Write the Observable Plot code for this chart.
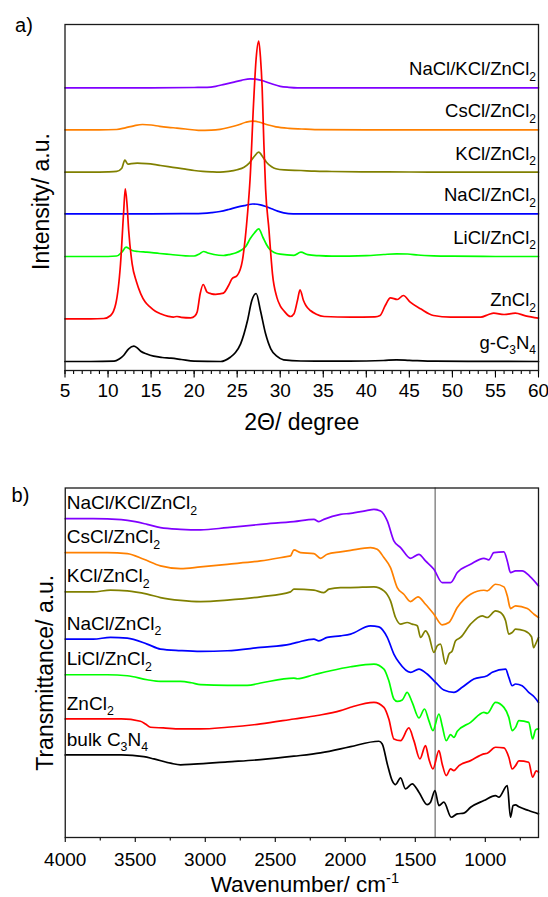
<!DOCTYPE html>
<html><head><meta charset="utf-8">
<script src="https://cdn.jsdelivr.net/npm/d3@7"></script>
<script src="https://cdn.jsdelivr.net/npm/@observablehq/plot@0.6"></script>
<style>
html,body{margin:0;padding:0;background:#fff;}
#fig{position:relative;width:548px;height:897px;overflow:hidden;background:#fff;}
#fig svg{position:absolute;left:0;}
</style></head><body><div id="fig"></div>
<script>
// ---------- Panel a) XRD data: [2theta, intensity above own baseline (a.u.)] ----------
const xrdNames = ["g-C3N4", "ZnCl2", "LiCl/ZnCl2", "NaCl/ZnCl2", "KCl/ZnCl2", "CsCl/ZnCl2", "NaCl/KCl/ZnCl2"];
const xrdOffsets = [9, 51.7, 114, 156.7, 198.3, 240.7, 282.7];
const xrdTicks = [5, 10, 15, 20, 25, 30, 35, 40, 45, 50, 55, 60];

const xrdGC3N4 = [[5,0],[8,0],[10.7,0.3],[11.3,2.5],[11.8,6],[12.4,12.7],[13.0,15.3],[13.4,13.5],[13.8,10.3],[14.5,7.5],[15.3,5.3],[16.3,4],[17.3,3.3],[18.5,2],[20,0.3],[23.1,0],[24.2,4.3],[24.8,9],[25.4,17.7],[26.2,41],[26.7,61],[27.2,68],[27.7,51],[28.3,27.7],[28.9,12.7],[29.6,5.3],[30.4,1.7],[32.4,0.5],[38,0.3],[42,1],[43.5,1.7],[45,1.2],[48,0.3],[60,0]];
const xrdZnCl2 = [[5,0],[8,0],[9.5,0.3],[10.3,3.3],[10.9,15],[11.45,55],[11.8,105],[12.0,130],[12.2,115],[12.4,88],[12.8,55],[13.3,37],[13.8,25],[14.3,17],[14.9,11.7],[15.5,7.5],[16.1,5],[17,2.5],[17.6,1.7],[18,2.3],[18.5,1.5],[19.6,1],[20.1,3],[20.35,6.7],[20.7,25],[21.05,34.3],[21.5,26.7],[22,25],[22.5,24.5],[23,25],[23.4,25.7],[24.0,33.3],[24.4,40],[25.0,43.3],[25.6,58],[26.2,105],[26.5,140],[26.9,215],[27.2,260],[27.5,277.6],[27.7,262],[27.9,231],[28.1,175],[28.3,130],[28.7,88],[28.9,65],[29.1,45],[29.6,21.7],[30.0,13],[30.4,8.3],[31.2,2.3],[31.6,5],[32.0,18.3],[32.3,29],[32.7,18.3],[33.0,13],[33.5,8.3],[34.2,4.5],[35.1,2.3],[38.2,1.7],[41,2],[41.6,3.3],[42.2,13.3],[42.8,21],[43.6,19.3],[44.3,23.3],[45.1,16.7],[46.3,10],[47.8,3.3],[49.8,1.7],[53.3,1.7],[54.2,4.3],[54.8,5.7],[56,4.3],[57.3,5.7],[58.5,3],[60,0.7]];
const xrdLiCl = [[5,0],[9,0],[11,0.5],[11.6,4.3],[12.1,9.3],[12.8,6],[13.5,5],[14.5,4.3],[16,3],[17.3,2],[19,0.7],[20,0.5],[20.6,2.5],[21.1,5],[21.6,3.5],[22.3,2],[23.4,1],[24.2,2.2],[24.8,3.5],[25.5,6.5],[26,10],[26.5,17.7],[27,23.5],[27.5,27.7],[28,19],[28.4,12],[28.8,7],[29.3,4],[30,2.3],[31.6,1.2],[32.4,4.3],[33.2,1.8],[34.5,0.8],[36,0.3],[40,0.8],[42,2],[43.5,2.7],[44.8,2.5],[46,1.5],[47.8,0.7],[50,0.3],[55,0],[60,0]];
const xrdNaCl = [[5,0],[10,0],[15,0],[20,0.2],[21,0.5],[22,1.2],[23,2.3],[24,4.3],[25,6.7],[26,8.5],[26.8,9.8],[27.7,9],[28.4,7],[29,5],[29.7,2.7],[30.4,1],[31.5,0],[40,0],[50,0],[60,0]];
const xrdKCl = [[5,0],[8,0],[10,0.3],[11,0.8],[11.6,4],[11.95,12],[12.3,8],[12.7,8.5],[13.4,9],[14.5,8.5],[15.3,7.8],[16.1,6.7],[17,5.5],[18,4.3],[19,3],[20,1.7],[21,0.8],[22,0.3],[23,0],[24,0.8],[25,2.5],[25.8,5],[26.4,9],[27,16],[27.5,20],[28,15],[28.4,10],[29,5.5],[29.5,3.5],[30.5,2.3],[32.4,1.7],[34,1],[36,0.7],[40,0.3],[45,0.2],[50,0],[60,0]];
const xrdCsCl = [[5,0],[9,0],[11,0.3],[12,2],[13,4],[14,5.3],[15,4.8],[16,3.5],[17,2.5],[18,1.7],[19,0.8],[20.5,-0.5],[22,-0.3],[23,0.5],[24,2.3],[25,4.5],[26,7.5],[26.8,8.7],[27.5,7.8],[28.5,5],[29.5,3],[31,1.5],[32.5,0.8],[34,0.2],[40,0],[50,0],[60,0]];
const xrdNaKCl = [[5,0],[10,0],[15,0],[20,0.3],[21.5,0.5],[22.5,1.5],[23.5,3.5],[24.5,5.5],[25.5,7.5],[26.5,9],[27.3,8.5],[28,7],[29,4],[30,1.5],[31,0.5],[32,0],[40,0],[50,0],[60,0]];
const xrdSeries = [xrdGC3N4, xrdZnCl2, xrdLiCl, xrdNaCl, xrdKCl, xrdCsCl, xrdNaKCl];

// ---------- Panel b) FTIR data: [wavenumber, transmittance relative to value at 4000 (a.u.)] ----------
const irNames = ["bulk C3N4", "ZnCl2", "LiCl/ZnCl2", "NaCl/ZnCl2", "KCl/ZnCl2", "CsCl/ZnCl2", "NaCl/KCl/ZnCl2"];
const irOffsets = [82.7, 118.7, 163, 198.7, 246, 285.3, 319.3];
const irTicks = [4000, 3500, 3000, 2500, 2000, 1500, 1000];
const irMinorTicks = [3750, 3250, 2750, 2250, 1750, 1250, 750];
const irMarker = [1358];

const irBulk = [[4000,0],[3600,0],[3439,-1.7],[3367,-4],[3248,-8.3],[3177,-10],[3082,-9.3],[2843,-7],[2605,-4.7],[2367,-1.3],[2177,2],[2034,6],[1962,8.3],[1760,13.7],[1736,11],[1700,-9],[1665,-25.7],[1641,-29.7],[1605,-23],[1570,-34],[1522,-29],[1474,-37.3],[1415,-49.7],[1391,-47.3],[1360,-35.7],[1331,-50.7],[1296,-47.3],[1243,-62.4],[1200,-59],[1153,-58.3],[1105,-52.4],[1010,-45.7],[927,-40.7],[903,-42.3],[843,-30.7],[820,-62.4],[801,-50.7],[784,-50],[760,-52],[690,-55.7],[620,-59]];
const irZnCl2 = [[4000,0],[3600,0],[3463,-2.3],[3427,-5],[3391,-8.3],[3300,-9],[3177,-10],[3034,-10],[2843,-8.3],[2605,-5],[2367,0],[2200,3.5],[2034,8.3],[1962,11.7],[1795,16.7],[1724,11.7],[1689,0],[1653,-20],[1605,-21.7],[1546,-9],[1510,-21.7],[1467,-40],[1427,-26.7],[1403,-40],[1374,-50],[1331,-31.7],[1308,-45],[1279,-56.7],[1248,-50],[1224,-51.7],[1188,-46.7],[1105,-41.7],[1010,-35],[986,-34.3],[927,-28.3],[867,-29],[832,-38.3],[808,-50],[784,-46.7],[760,-42],[690,-43.3],[662,-58.3],[636,-52],[620,-53.3]];
const irLiCl = [[4000,0],[3700,0],[3557,-1],[3415,-5],[3320,-6.7],[3177,-6.7],[3100,-8],[3034,-10],[2843,-10.7],[2701,-10.7],[2605,-8.3],[2367,-3.3],[2343,-4],[2224,0],[2105,4],[1962,8],[1795,10.7],[1724,5.7],[1689,-6],[1653,-24.3],[1629,-26.7],[1593,-25.3],[1558,-17.7],[1522,-27.7],[1474,-43.3],[1434,-34.3],[1403,-46],[1374,-56],[1331,-39.3],[1308,-51],[1279,-66],[1248,-60],[1224,-62.7],[1200,-56.7],[1105,-47.7],[1010,-37.7],[986,-38.7],[927,-27.7],[867,-32.7],[832,-42.7],[808,-56],[784,-52.7],[760,-46],[690,-47.7],[662,-64.3],[640,-55],[620,-54.3]];
const irNaCl = [[4000,0],[3800,0],[3677,1.7],[3557,1],[3415,-5],[3320,-10],[3177,-11.5],[3034,-12.3],[2843,-11.7],[2605,-8.3],[2391,-5],[2343,-3.3],[2224,0],[2189,-1.7],[2129,1.7],[2034,3.3],[1962,5],[1820,13.3],[1760,12.3],[1700,1.7],[1653,-15],[1617,-23.3],[1534,-33.3],[1474,-30],[1415,-35],[1355,-43.3],[1296,-51],[1224,-53.3],[1165,-48.3],[1082,-40],[986,-36.7],[950,-33.3],[855,-30],[832,-38.3],[808,-46.7],[784,-45],[737,-46.7],[690,-53.3],[650,-58],[620,-63.4]];
const irKCl = [[4000,0],[3800,0],[3677,1.7],[3557,1],[3415,-2.3],[3320,-5.7],[3177,-8.5],[3034,-9.7],[2843,-8.3],[2605,-5],[2391,0],[2367,2.7],[2224,1.7],[2153,-0.7],[2117,2.7],[2034,4.3],[1962,4.3],[1795,5],[1724,1],[1677,-9],[1641,-25.7],[1605,-32.3],[1558,-30.7],[1522,-32.3],[1486,-34],[1462,-45.7],[1427,-39],[1403,-44],[1367,-60.7],[1343,-54],[1320,-52.3],[1284,-72.3],[1260,-62.3],[1236,-59],[1212,-49],[1177,-45.7],[1105,-32.3],[1022,-24],[986,-25.7],[927,-19],[891,-20.7],[855,-29],[832,-42.3],[808,-40.7],[784,-37.3],[720,-39],[670,-45],[655,-56],[640,-52],[620,-45.7]];
const irCsCl = [[4000,0],[3700,0],[3557,-1],[3439,-6.7],[3320,-13.3],[3177,-16],[3034,-14.3],[2843,-11.7],[2605,-8.3],[2420,-4],[2391,-3.3],[2367,2.7],[2320,0],[2224,-1],[2177,-5.7],[2129,-1.7],[2034,0.7],[1962,2.3],[1820,5],[1772,3.3],[1724,-5],[1677,-15],[1629,-35],[1582,-41.7],[1534,-49],[1481,-44.3],[1427,-51.7],[1367,-61.7],[1308,-72.3],[1260,-70],[1200,-55],[1105,-41.7],[1010,-37.7],[986,-38.3],[927,-31.7],[867,-34.3],[843,-43.3],[820,-56],[784,-53.3],[700,-56],[650,-62],[620,-65]];
const irNaKCl = [[4000,0],[3800,0],[3600,-1],[3500,-3],[3415,-5.7],[3320,-9],[3177,-10.7],[3034,-11.3],[2843,-9],[2605,-5.7],[2367,-3],[2224,-0.7],[2189,-3],[2153,-0.7],[2034,4.3],[1962,5.3],[1850,8],[1795,9.3],[1748,7.7],[1700,-2.3],[1653,-22.3],[1605,-29],[1534,-39.7],[1474,-35.7],[1427,-42.3],[1367,-50.7],[1308,-64],[1248,-64],[1200,-54],[1105,-45.7],[1010,-39.7],[975,-41.3],[939,-34],[867,-33.3],[843,-42.3],[820,-54],[784,-52.3],[737,-52.3],[680,-58],[620,-67.3]];
const irSeries = [irBulk, irZnCl2, irLiCl, irNaCl, irKCl, irCsCl, irNaKCl];

// ---------- styles ----------
const seriesColors = ["#000000", "#ff0000", "#00ff00", "#0000ff", "#808000", "#ff8000", "#8000ff"];
const FONT = '"Liberation Sans", Arial, Helvetica, sans-serif';
const NS = "http://www.w3.org/2000/svg";

function buildTable(names, offsets, series) {
  const rows = [];
  names.forEach((s, i) => series[i].forEach(([x, v]) => rows.push({s, x, y: v + offsets[i]})));
  return rows;
}
const xrdTable = buildTable(xrdNames, xrdOffsets, xrdSeries);
// draw red (ZnCl2) last so it lies on top, as in the original
const xrdDrawOrder = [0, 2, 3, 4, 5, 6, 1].map(i => xrdNames[i]);
xrdTable.sort((a, b) => xrdDrawOrder.indexOf(a.s) - xrdDrawOrder.indexOf(b.s));
const irTable = buildTable(irNames, irOffsets, irSeries);

const xrdLabels = xrdNames.map((s, i) => ({s, x: 60, y: xrdOffsets[i]}));
const irLabels = irNames.map((s, i) => ({s, x: 4000, y: irOffsets[i] + irSeries[i][0][1]}));

function richText(svg, cls, fs, pattern, shift, scale) {
  svg.querySelectorAll("." + cls + " text").forEach(t => {
    const parts = t.textContent.split(pattern).filter(p => p !== "");
    t.textContent = "";
    let cur = 0;
    for (const p of parts) {
      const span = document.createElementNS(NS, "tspan");
      const special = pattern.test(p);
      const target = special ? shift : 0;
      if (special) span.setAttribute("font-size", (fs * scale) + "px");
      if (target - cur !== 0) span.setAttribute("dy", (target - cur) + "px");
      cur = target;
      span.textContent = p;
      t.appendChild(span);
    }
  });
}

const baseStyle = {fontFamily: FONT, fontSize: "19px", color: "#000", background: "transparent", overflow: "visible"};

// ---------- Panel a ----------
const plotA = Plot.plot({
  width: 548, height: 440,
  marginLeft: 64.5, marginRight: 10, marginTop: 24, marginBottom: 70,
  style: baseStyle,
  x: {domain: [5, 60], label: null},
  y: {domain: [0, 346], axis: null},
  color: {domain: xrdNames, range: seriesColors},
  marks: [
    Plot.axisX({ticks: d3.range(5, 61, 1), tickSize: 4, tickFormat: () => "", label: null, strokeWidth: 1.1}),
    Plot.axisX({ticks: xrdTicks, tickSize: 7.5, tickPadding: 5, label: null, tickFormat: d3.format("d"), strokeWidth: 1.1}),
    Plot.line(xrdTable, {x: "x", y: "y", z: "s", stroke: "s", curve: "monotone-x", strokeWidth: 1.7}),
    Plot.frame({stroke: "#1a1a1a", strokeWidth: 1.3}),
    Plot.text(xrdLabels, {x: "x", y: "y", text: "s", textAnchor: "end", lineAnchor: "middle", dx: -2.5, dy: -18.5, fontSize: 18.5, fill: "#000", className: "slabA"}),
    Plot.text(["Intensity/ a.u."], {frameAnchor: "left", textAnchor: "middle", rotate: -90, dx: -23, dy: 4, fontSize: 23, lineAnchor: "middle", fill: "#000"}),
    Plot.text(["2Θ/ degree"], {frameAnchor: "bottom", textAnchor: "middle", dy: 51.7, fontSize: 23, lineAnchor: "middle", fill: "#000"}),
    Plot.text(["a)"], {frameAnchor: "top-left", textAnchor: "middle", dx: -41, dy: 1, fontSize: 20, lineAnchor: "middle", fill: "#000"})
  ]
});
plotA.style.top = "0px";
richText(plotA, "slabA", 18.5, /(\d+)/, 5.5, 0.65);

// ---------- Panel b ----------
const plotB = Plot.plot({
  width: 548, height: 457,
  marginLeft: 64.75, marginRight: 10, marginTop: 47.5, marginBottom: 60,
  style: baseStyle,
  x: {domain: [4000, 620], label: null},
  y: {domain: [0, 350], axis: null},
  color: {domain: irNames, range: seriesColors},
  marks: [
    Plot.axisX({ticks: irMinorTicks, tickSize: 3.5, tickFormat: () => "", label: null, strokeWidth: 1.1}),
    Plot.axisX({ticks: irTicks, tickSize: 5, tickPadding: 10, label: null, tickFormat: d3.format("d"), strokeWidth: 1.1}),
    Plot.ruleX(irMarker, {stroke: "#8a8a8a", strokeWidth: 1.5}),
    Plot.line(irTable, {x: "x", y: "y", z: "s", stroke: "s", curve: "monotone-x", strokeWidth: 1.7}),
    Plot.frame({stroke: "#1a1a1a", strokeWidth: 1.3}),
    Plot.text(irLabels, {x: "x", y: "y", text: "s", textAnchor: "start", lineAnchor: "middle", dx: 1.5, dy: -15.5, fontSize: 19, fill: "#000", className: "slabB"}),
    Plot.text(["Transmittance/ a.u."], {frameAnchor: "left", textAnchor: "middle", rotate: -90, dx: -19.5, dy: 10, fontSize: 23, lineAnchor: "middle", fill: "#000"}),
    Plot.text(["Wavenumber/ cm-1"], {frameAnchor: "bottom", textAnchor: "middle", dx: 3, dy: 47.5, fontSize: 22.5, lineAnchor: "middle", fill: "#000", className: "xtitleB"}),
    Plot.text(["b)"], {frameAnchor: "top-left", textAnchor: "middle", dx: -44.75, dy: 7.5, fontSize: 20, lineAnchor: "middle", fill: "#000"})
  ]
});
plotB.style.top = "440px";
richText(plotB, "slabB", 19, /(\d+)/, 5.5, 0.65);
richText(plotB, "xtitleB", 22.5, /(-1)/, -9, 0.65);

const fig = document.getElementById("fig");
fig.appendChild(plotA);
fig.appendChild(plotB);
</script></body></html>
